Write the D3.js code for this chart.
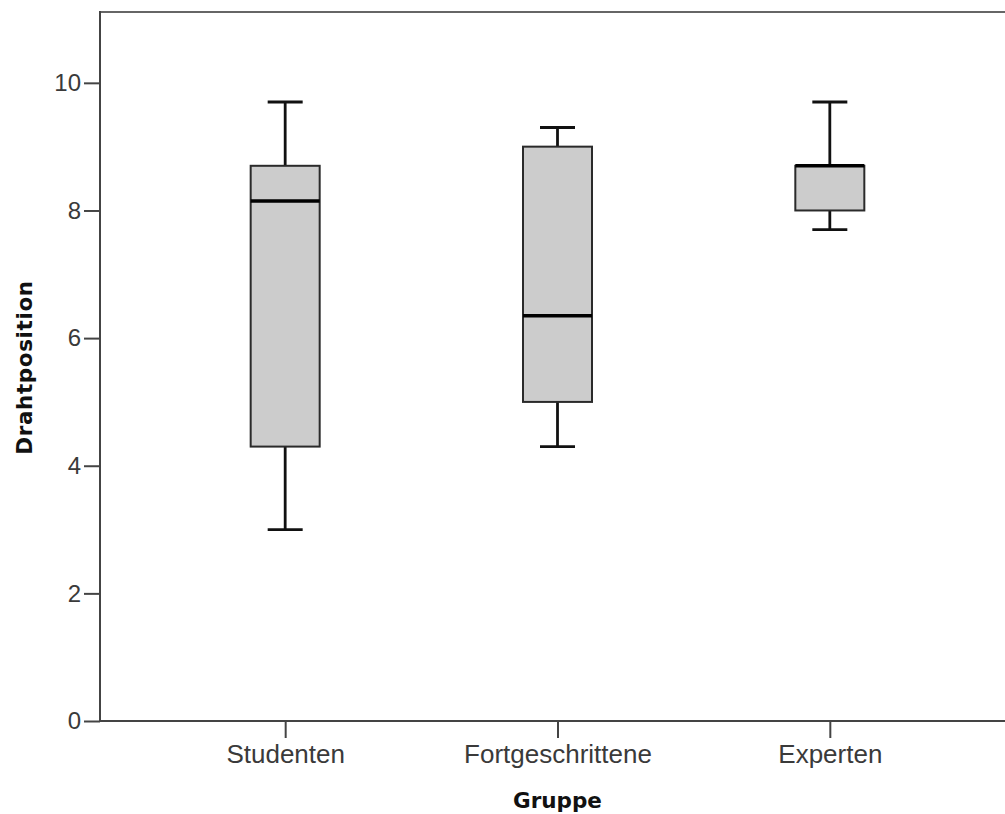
<!DOCTYPE html>
<html>
<head>
<meta charset="utf-8">
<script src="https://cdn.jsdelivr.net/npm/d3@7"></script>
<style>
  html, body { margin: 0; padding: 0; background: #fff; }
  svg { display: block; }
</style>
</head>
<body>
<svg id="chart" width="1005" height="814"></svg>
<script>
// Boxplot summaries per group: whisker min, Q1, median, Q3, whisker max
const groups  = ["Studenten", "Fortgeschrittene", "Experten"];
const minVals = [3.0, 4.3, 7.7];
const q1Vals  = [4.3, 5.0, 8.0];
const medians = [8.15, 6.35, 8.7];
const q3Vals  = [8.7, 9.0, 8.7];
const maxVals = [9.7, 9.3, 9.7];
const yTicks  = [0, 2, 4, 6, 8, 10];

const svg = d3.select("#chart");

const plotLeft = 100, plotRight = 1015, plotTop = 12, plotBottom = 721;

const y = d3.scaleLinear().domain([0, 11.11]).range([plotBottom, plotTop]);
const x = d3.scalePoint().domain(groups).range([plotLeft, plotRight]).padding(0.68);

const boxW = 69, capW = 35;

const data = groups.map((g, i) => ({
  g, min: minVals[i], q1: q1Vals[i], med: medians[i], q3: q3Vals[i], max: maxVals[i]
}));

// frame: top border
svg.append("line")
  .attr("x1", plotLeft).attr("x2", plotRight)
  .attr("y1", plotTop).attr("y2", plotTop)
  .attr("stroke", "#666").attr("stroke-width", 2);

// y axis
const yAxis = svg.append("g")
  .attr("transform", `translate(${plotLeft},0)`)
  .call(d3.axisLeft(y).tickValues(yTicks).tickSize(16).tickPadding(3).tickFormat(d3.format("d")));
yAxis.select(".domain").remove();
yAxis.selectAll(".tick line").attr("stroke", "#444").attr("stroke-width", 2);
yAxis.selectAll(".tick text")
  .attr("fill", "#3a3a3a")
  .style("font-family", "'Liberation Sans', Arial, sans-serif")
  .style("font-size", "24px");
svg.append("line")
  .attr("x1", plotLeft).attr("x2", plotLeft)
  .attr("y1", plotTop - 1).attr("y2", plotBottom + 1)
  .attr("stroke", "#444").attr("stroke-width", 2);

// x axis
const xAxis = svg.append("g")
  .attr("transform", `translate(0,${plotBottom})`)
  .call(d3.axisBottom(x).tickSize(17).tickPadding(7));
xAxis.select(".domain").remove();
xAxis.selectAll(".tick line").attr("stroke", "#444").attr("stroke-width", 2);
xAxis.selectAll(".tick text")
  .attr("fill", "#3a3a3a")
  .style("font-family", "'Liberation Sans', Arial, sans-serif")
  .style("font-size", "26px");
svg.append("line")
  .attr("x1", plotLeft - 1).attr("x2", plotRight)
  .attr("y1", plotBottom).attr("y2", plotBottom)
  .attr("stroke", "#444").attr("stroke-width", 2);

// boxes
const box = svg.append("g").selectAll("g").data(data).join("g")
  .attr("transform", d => `translate(${x(d.g)},0)`);

// whisker stems
box.append("line")
  .attr("x1", 0).attr("x2", 0)
  .attr("y1", d => y(d.q3)).attr("y2", d => y(d.max))
  .attr("stroke", "#111").attr("stroke-width", 2.8);
box.append("line")
  .attr("x1", 0).attr("x2", 0)
  .attr("y1", d => y(d.q1)).attr("y2", d => y(d.min))
  .attr("stroke", "#111").attr("stroke-width", 2.8);
// whisker caps
box.append("line")
  .attr("x1", -capW / 2).attr("x2", capW / 2)
  .attr("y1", d => y(d.max)).attr("y2", d => y(d.max))
  .attr("stroke", "#111").attr("stroke-width", 2.8);
box.append("line")
  .attr("x1", -capW / 2).attr("x2", capW / 2)
  .attr("y1", d => y(d.min)).attr("y2", d => y(d.min))
  .attr("stroke", "#111").attr("stroke-width", 2.8);

// interquartile box
box.append("rect")
  .attr("x", -boxW / 2).attr("width", boxW)
  .attr("y", d => y(d.q3)).attr("height", d => y(d.q1) - y(d.q3))
  .attr("fill", "#cccccc").attr("stroke", "#2a2a2a").attr("stroke-width", 2);

// median
box.append("line")
  .attr("x1", -boxW / 2).attr("x2", boxW / 2)
  .attr("y1", d => y(d.med)).attr("y2", d => y(d.med))
  .attr("stroke", "#000").attr("stroke-width", 3.5);

// axis titles
svg.append("text")
  .attr("x", x("Fortgeschrittene")).attr("y", 808)
  .attr("text-anchor", "middle")
  .attr("fill", "#111")
  .style("font-family", "'DejaVu Sans', sans-serif")
  .style("font-weight", "bold")
  .style("font-size", "21.5px")
  .text("Gruppe");

svg.append("text")
  .attr("transform", `translate(32,${(plotTop + plotBottom) / 2 + 1}) rotate(-90)`)
  .attr("text-anchor", "middle")
  .attr("fill", "#111")
  .style("font-family", "'DejaVu Sans', sans-serif")
  .style("font-weight", "bold")
  .style("font-size", "21.5px")
  .style("letter-spacing", "0.6px")
  .text("Drahtposition");
</script>
</body>
</html>
